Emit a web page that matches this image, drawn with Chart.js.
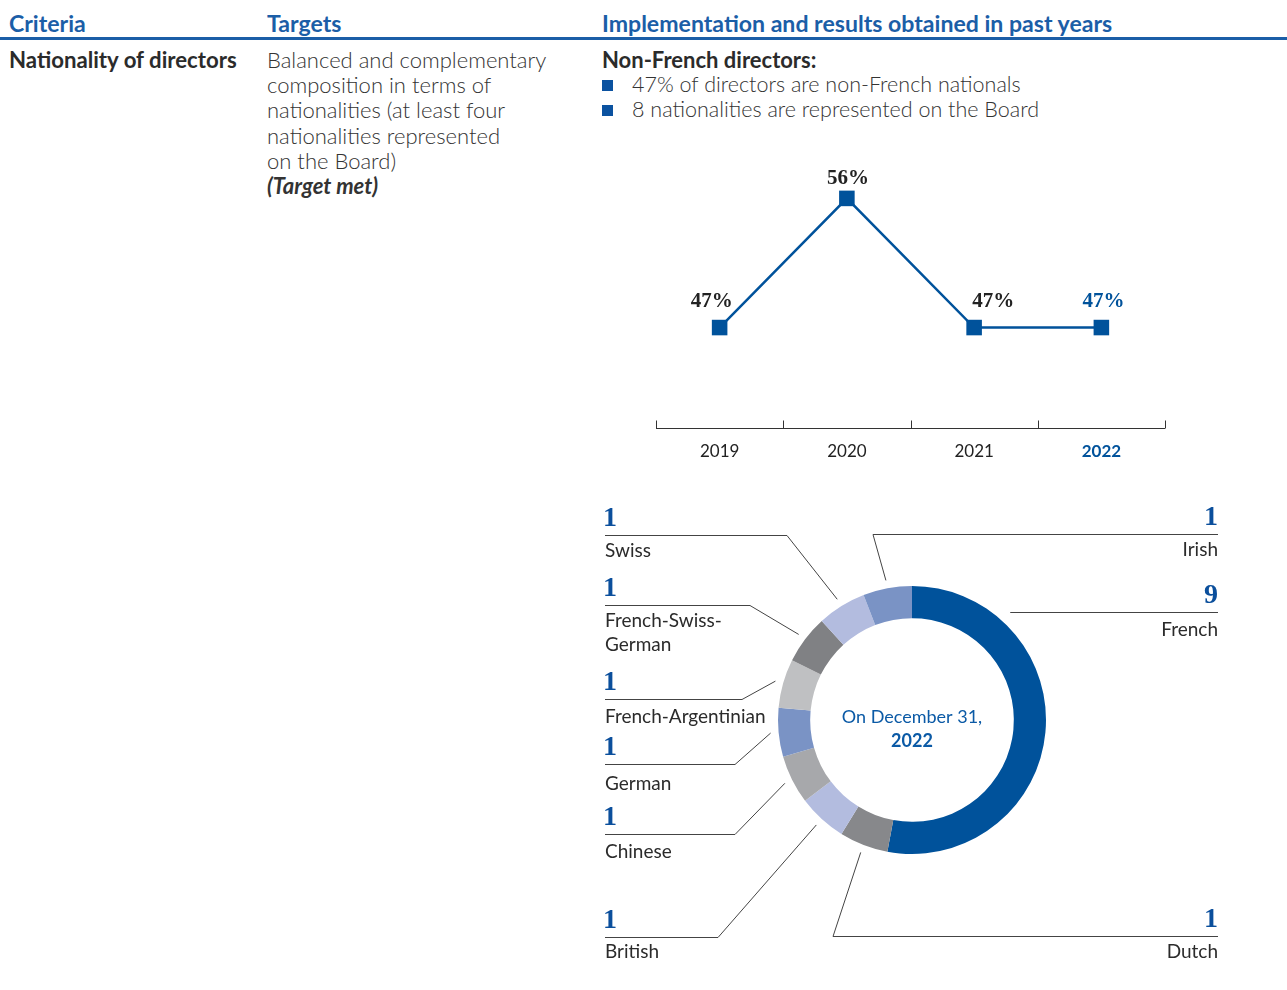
<!DOCTYPE html>
<html>
<head>
<meta charset="utf-8">
<script src="https://cdn.jsdelivr.net/npm/chart.js@4.4.0/dist/chart.umd.min.js"></script>
<style>
  html, body { margin: 0; padding: 0; background: #fff; }
  body { width: 1287px; height: 990px; position: relative; overflow: hidden;
         font-family: Lato, "Open Sans", sans-serif; color: #2b2b2b; }
  .abs { position: absolute; white-space: nowrap; }
  .head { top: 9px; font-weight: 700; font-size: 23.1px; line-height: 28px; color: #1b5ea7; }
  .rule { left: 0; top: 37px; width: 1287px; height: 3px; background: #1b5ea7; }
  .strong { top: 47px; font-weight: 700; font-size: 22.2px; line-height: 26px; color: #2b2b2b; }
  .light { font-weight: 300; font-size: 22px; line-height: 25.2px; color: #333; }
  .bullet { width: 11px; height: 11px; background: #0b52a0; }
  canvas { position: absolute; }
</style>
</head>
<body>
<div class="abs head" style="left:9px">Criteria</div>
<div class="abs head" style="left:267px">Targets</div>
<div class="abs head" style="left:602px">Implementation and results obtained in past years</div>
<div class="abs rule"></div>

<div class="abs strong" style="left:9px">Nationality of directors</div>
<div class="abs light" style="left:267px; top:47px">
  Balanced and complementary<br>composition in terms of<br>nationalities (at least four<br>nationalities represented<br>on the Board)<br><i style="font-weight:700">(Target met)</i>
</div>

<div class="abs strong" style="left:602px; font-size:22px">Non-French directors:</div>
<div class="abs bullet" style="left:602px; top:80px"></div>
<div class="abs light" style="left:632px; top:72px; font-size:21.5px">47% of directors are non-French nationals</div>
<div class="abs bullet" style="left:602px; top:105px"></div>
<div class="abs light" style="left:632px; top:97px; font-size:21.5px">8 nationalities are represented on the Board</div>

<canvas id="line" width="600" height="345" style="left:600px; top:130px"></canvas>
<canvas id="donut" width="650" height="485" style="left:590px; top:490px"></canvas>

<script>
// non-French share of directors, by year
const years = ["2019", "2020", "2021", "2022"]
const nonFrenchShare = [47, 56, 47, 47]

// board composition on December 31, 2022 (clockwise from the top)
const nationalities = ["French", "Dutch", "British", "Chinese", "German",
  "French-Argentinian", "French-Swiss-German", "Swiss", "Irish"]
const directorCounts = [9, 1, 1, 1, 1, 1, 1, 1, 1]

const BLUE = "#00529b"
const sliceColors = ["#00529b", "#87888b", "#b3bcdf", "#a7a8ab", "#7a93c5",
  "#bfc0c2", "#808184", "#b3bcdf", "#7a93c5"]

const SANS = "Lato, 'Open Sans', sans-serif"
const SERIF = "'Liberation Serif', 'DejaVu Serif', serif"

Chart.defaults.font.family = SANS

// labels above the line points, and the little axis with upward ticks
const lineExtras = {
  id: "lineExtras",
  afterDatasetsDraw(chart, args, opts) {
    const ctx = chart.ctx
    const x = chart.scales.x
    const meta = chart.getDatasetMeta(0)
    ctx.save()
    ctx.font = "bold 21px " + SERIF
    ctx.textAlign = "center"
    ctx.textBaseline = "alphabetic"
    meta.data.forEach((pt, i) => {
      const n = opts.nudges[i] || [0, 0]
      ctx.fillStyle = i === meta.data.length - 1 ? BLUE : "#222"
      ctx.fillText(chart.data.datasets[0].data[i] + "%", pt.x + n[0], pt.y + n[1])
    })
    // axis line + ticks
    const y = chart.chartArea.bottom + 0.5
    ctx.strokeStyle = "#333"
    ctx.lineWidth = 1
    ctx.beginPath()
    ctx.moveTo(x.getPixelForValue(-0.5), y)
    ctx.lineTo(x.getPixelForValue(years.length - 0.5), y)
    for (let i = 0; i <= years.length; i++) {
      const tx = Math.round(x.getPixelForValue(i - 0.5)) + 0.5
      ctx.moveTo(tx, y)
      ctx.lineTo(tx, y - 8)
    }
    ctx.stroke()
    ctx.restore()
  },
}

new Chart(document.getElementById("line"), {
  type: "line",
  data: {
    labels: years,
    datasets: [{
      data: nonFrenchShare,
      borderColor: BLUE,
      borderWidth: 2.5,
      pointStyle: "rect",
      pointRadius: 11,
      pointBackgroundColor: BLUE,
      pointBorderWidth: 0,
      tension: 0,
    }],
  },
  options: {
    responsive: false,
    devicePixelRatio: 1,
    animation: false,
    layout: { padding: { left: 56, right: 35, top: 11, bottom: 7 } },
    scales: {
      x: {
        offset: true,
        grid: { display: false },
        border: { display: false },
        ticks: {
          padding: 5,
          color: (c) => (c.index === years.length - 1 ? BLUE : "#222"),
          font: (c) => ({ size: 17, weight: c.index === years.length - 1 ? "bold" : "normal" }),
        },
        afterFit: (s) => { s.height = 40 },
      },
      y: { display: false, min: 40, max: 60 },
    },
    plugins: {
      legend: { display: false },
      tooltip: { enabled: false },
      lineExtras: { nudges: [[-8, -21], [1, -14], [19, -21], [2, -21]] },
    },
  },
  plugins: [lineExtras],
})

// leader lines and labels round the doughnut (canvas coordinates)
const calloutLayout = [
  { side: "right", ruleY: 122, elbowX: null, nameDy: 18 },  // French
  { side: "right", ruleY: 446, elbowX: 243, nameDy: 16 },   // Dutch
  { side: "left", ruleY: 447, elbowX: 128, nameDy: 15 },    // British
  { side: "left", ruleY: 344, elbowX: 145, nameDy: 18 },    // Chinese
  { side: "left", ruleY: 274, elbowX: 145, nameDy: 20 },    // German
  { side: "left", ruleY: 209, elbowX: 152, nameDy: 18 },    // French-Argentinian
  { side: "left", ruleY: 115, elbowX: 160, nameDy: 16 },    // French-Swiss-German
  { side: "left", ruleY: 45, elbowX: 197, nameDy: 16 },     // Swiss
  { side: "right", ruleY: 44, elbowX: 283, nameDy: 16 },    // Irish
]
const nameLines = { "French-Swiss-German": ["French-Swiss-", "German"] }

const callouts = {
  id: "callouts",
  afterDatasetsDraw(chart) {
    const ctx = chart.ctx
    const meta = chart.getDatasetMeta(0)
    const leftX = 15, rightX = 628
    ctx.save()
    meta.data.forEach((arc, i) => {
      const { x: cx, y: cy, startAngle, endAngle, outerRadius } =
        arc.getProps(["x", "y", "startAngle", "endAngle", "outerRadius"], true)
      const L = calloutLayout[i]
      const mid = (startAngle + endAngle) / 2
      const r = outerRadius + 8
      const ex = cx + Math.cos(mid) * r
      const ey = cy + Math.sin(mid) * r
      const y = L.ruleY + 0.5
      ctx.strokeStyle = "#444"
      ctx.lineWidth = 1
      ctx.beginPath()
      if (L.elbowX === null) {
        const dy = L.ruleY - cy
        const rx = cx + Math.sqrt(Math.max((outerRadius + 12) ** 2 - dy * dy, 0))
        ctx.moveTo(rx, y)
        ctx.lineTo(rightX, y)
      } else if (L.side === "left") {
        ctx.moveTo(leftX, y)
        ctx.lineTo(L.elbowX, y)
        ctx.lineTo(ex, ey)
      } else {
        ctx.moveTo(rightX, y)
        ctx.lineTo(L.elbowX, y)
        ctx.lineTo(ex, ey)
      }
      ctx.stroke()

      const tx = L.side === "left" ? 13 : rightX
      ctx.textAlign = L.side === "left" ? "left" : "right"
      ctx.fillStyle = "#0b4f9c"
      ctx.font = "bold 28px " + SERIF
      ctx.textBaseline = "alphabetic"
      ctx.fillText(String(chart.data.datasets[0].data[i]), tx, L.ruleY - 9)

      ctx.fillStyle = "#2b2b2b"
      ctx.font = "19px " + SANS
      ctx.textBaseline = "middle"
      const name = chart.data.labels[i]
      const parts = nameLines[name] || [name]
      parts.forEach((p, k) => ctx.fillText(p, L.side === "left" ? 15 : rightX, L.ruleY + L.nameDy + k * 24))
    })

    // centre caption
    const { x, y } = meta.data[0]
    ctx.textAlign = "center"
    ctx.textBaseline = "middle"
    ctx.fillStyle = "#0b5aa6"
    ctx.font = "18px " + SANS
    ctx.fillText("On December 31,", x, y - 3)
    ctx.font = "bold 18px " + SANS
    ctx.fillText("2022", x, y + 21)
    ctx.restore()
  },
}

new Chart(document.getElementById("donut"), {
  type: "doughnut",
  data: {
    labels: nationalities,
    datasets: [{
      data: directorCounts,
      backgroundColor: sliceColors,
      borderWidth: 0,
    }],
  },
  options: {
    responsive: false,
    devicePixelRatio: 1,
    animation: false,
    cutout: "76%",
    layout: { padding: { left: 188, right: 194, top: 96, bottom: 121 } },
    plugins: {
      legend: { display: false },
      tooltip: { enabled: false },
    },
  },
  plugins: [callouts],
})
</script>
</body>
</html>
